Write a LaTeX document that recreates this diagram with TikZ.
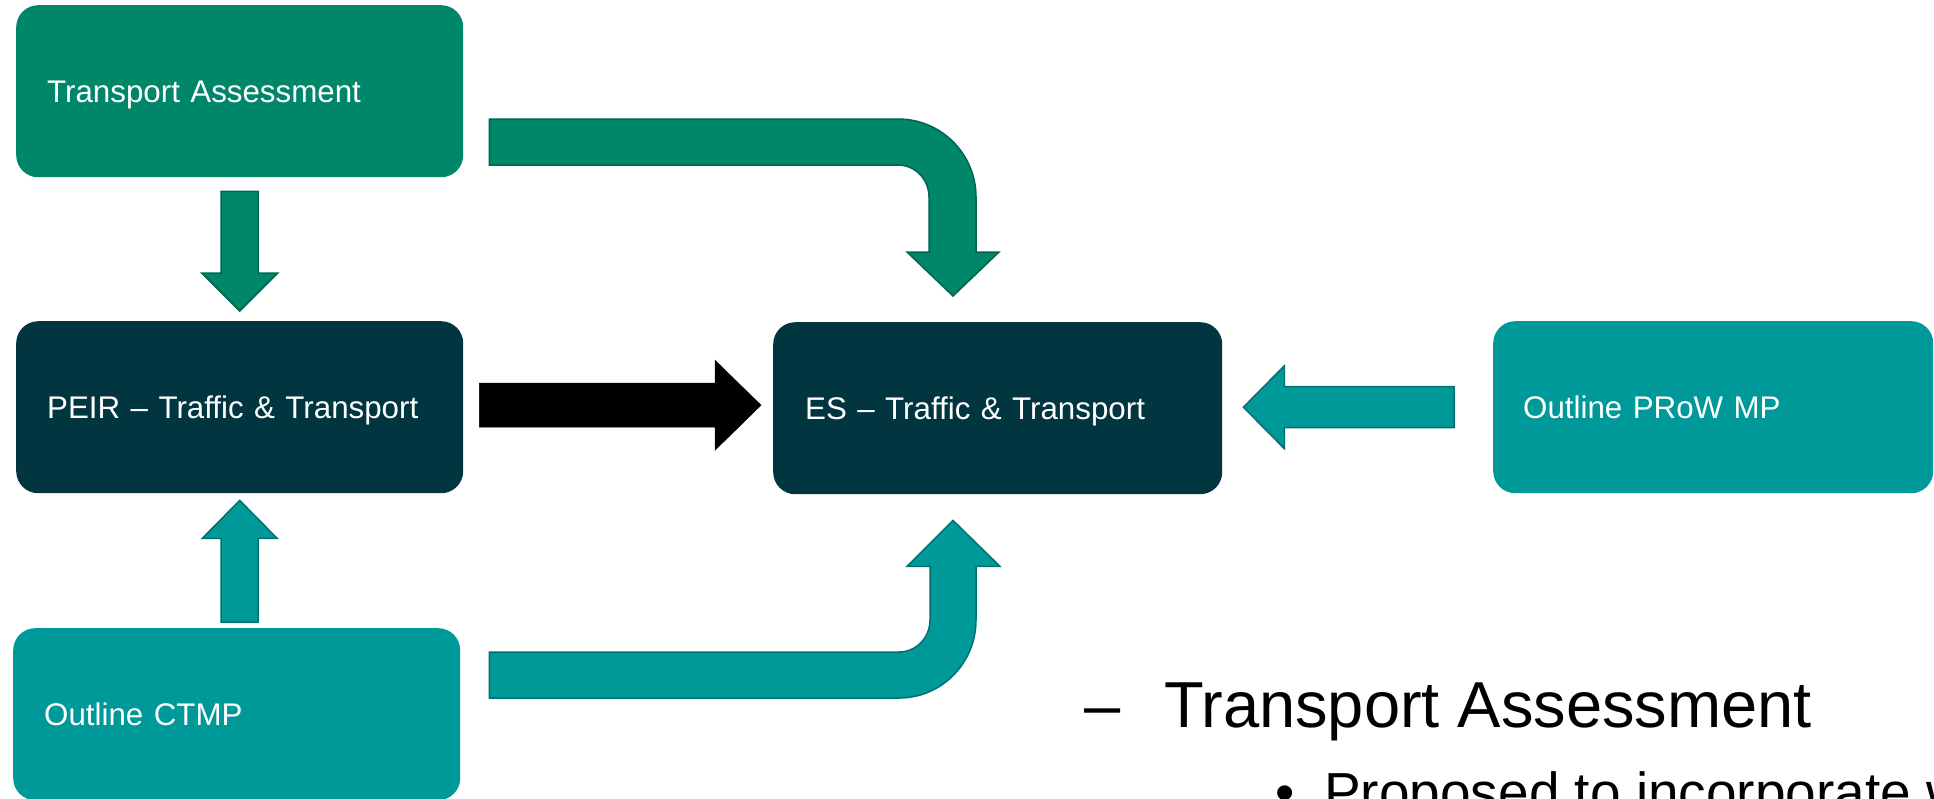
\documentclass[tikz,border=0pt]{standalone}
\usepackage{fontspec}
\setmainfont{Liberation Sans}
\usetikzlibrary{calc}
\definecolor{tagreen}{RGB}{0,135,106}
\definecolor{darkteal}{RGB}{1,53,64}
\definecolor{tealbox}{RGB}{0,153,153}
\definecolor{greenedge}{RGB}{0,100,80}
\definecolor{tealedge}{RGB}{0,112,112}
\begin{document}
\begin{tikzpicture}[x=1pt,y=-1pt,
  box/.style={rounded corners=22pt, minimum height=172pt, text width=385pt, align=left,
    inner sep=0pt, text=white, font=\fontsize{31.3}{38}\selectfont,
    text height=22.5pt, text depth=0pt, anchor=north west},
  garrow/.style={fill=tagreen, draw=greenedge, line width=1.5pt},
  tarrow/.style={fill=tealbox, draw=tealedge, line width=1.5pt},
  karrow/.style={fill=black, draw=black, line width=0.5pt},
  bigtext/.style={anchor=base west, inner sep=0pt, text=black}]
\useasboundingbox (0,0) rectangle (1934,798);
\clip (0,0) rectangle (1934,798);
% boxes
\node[box, fill=tagreen, minimum width=447pt] (ta) at (16,5) {Transport Assessment};
\node[box, fill=darkteal, minimum width=447pt] (peir) at (16,321) {PEIR – Traffic \& Transport};
\node[box, fill=darkteal, minimum width=449pt] (es) at (773,322) {ES – Traffic \& Transport};
\node[box, fill=tealbox, minimum width=440pt, text width=380pt] (prow) at (1493,321) {Outline PRoW MP};
\node[box, fill=tealbox, minimum width=447pt] (ctmp) at (13,628) {Outline CTMP};
% TA -> PEIR
\draw[garrow] let \p1=(ta.south), \p2=(peir.north) in
  (\x1-18.5pt,\y1-14pt) -- (\x1+18.5pt,\y1-14pt) -- (\x1+18.5pt,\y2+48pt) -- (\x1+38pt,\y2+48pt)
  -- (\x1,\y2+10pt) -- (\x1-38pt,\y2+48pt) -- (\x1-18.5pt,\y2+48pt) -- cycle;
% CTMP -> PEIR
\draw[tarrow] let \p1=(peir.south), \p2=(ctmp.north) in
  (\x1-18.5pt,\y2+6pt) -- (\x1+18.5pt,\y2+6pt) -- (\x1+18.5pt,\y1-45pt) -- (\x1+37.5pt,\y1-45pt)
  -- (\x1,\y1-7pt) -- (\x1-37.5pt,\y1-45pt) -- (\x1-18.5pt,\y1-45pt) -- cycle;
% PEIR -> ES
\draw[karrow] let \p1=(peir.east), \p2=(es.west) in
  (\x1+16pt,\y1+24pt) -- (\x2-58pt,\y1+24pt) -- (\x2-58pt,\y1+47pt) -- (\x2-12pt,\y1+2pt)
  -- (\x2-58pt,\y1-43pt) -- (\x2-58pt,\y1-20pt) -- (\x1+16pt,\y1-20pt) -- cycle;
% PRoW -> ES
\draw[tarrow] let \p1=(es.east), \p2=(prow.west) in
  (\x2-39pt,\y2+20.5pt) -- (\x1+62pt,\y2+20.5pt) -- (\x1+62pt,\y2+41.5pt) -- (\x1+21pt,\y2)
  -- (\x1+62pt,\y2-41.5pt) -- (\x1+62pt,\y2-20.5pt) -- (\x2-39pt,\y2-20.5pt) -- cycle;
% TA -> ES (bent)
\draw[garrow] let \p1=(ta.north east), \p2=(es.north west) in
  (\x1+26pt,\y1-114pt) -- (\x2+125pt,\y1-114pt)
  arc[start angle=90, end angle=0, radius=78pt]
  -- (\x2+203pt,\y2+70pt) -- (\x2+226pt,\y2+70pt) -- (\x2+180pt,\y2+26pt)
  -- (\x2+134pt,\y2+70pt) -- (\x2+156pt,\y2+70pt) -- (\x2+156pt,\y1-192pt)
  arc[start angle=0, end angle=90, x radius=31pt, y radius=32pt]
  -- (\x1+26pt,\y1-160pt) -- cycle;
% CTMP -> ES (bent)
\draw[tarrow] let \p1=(ctmp.north east), \p2=(es.south west) in
  (\x1+29pt,\y1-24pt) -- (\x2+126pt,\y1-24pt)
  arc[start angle=-90, end angle=0, x radius=31pt, y radius=32pt]
  -- (\x2+157pt,\y2-72pt) -- (\x2+134pt,\y2-72pt) -- (\x2+180pt,\y2-26pt)
  -- (\x2+227pt,\y2-72pt) -- (\x2+203pt,\y2-72pt) -- (\x2+203pt,\y1+8pt)
  arc[start angle=0, end angle=-90, x radius=77pt, y radius=78pt]
  -- (\x1+29pt,\y1-70pt) -- cycle;
% slide text
\node[bigtext, font=\fontsize{65}{70}\selectfont] (dash) at (1084,727) {–};
\node[bigtext, font=\fontsize{65}{70}\selectfont] (head) at (1164,727) {Transport Assessment};
\node[bigtext, font=\fontsize{55}{60}\selectfont] (bullet) at (1275,811) {•};
\node[bigtext, font=\fontsize{55}{60}\selectfont] (btext) at (1324,811) {Proposed to incorporate w};
\end{tikzpicture}
\end{document}
